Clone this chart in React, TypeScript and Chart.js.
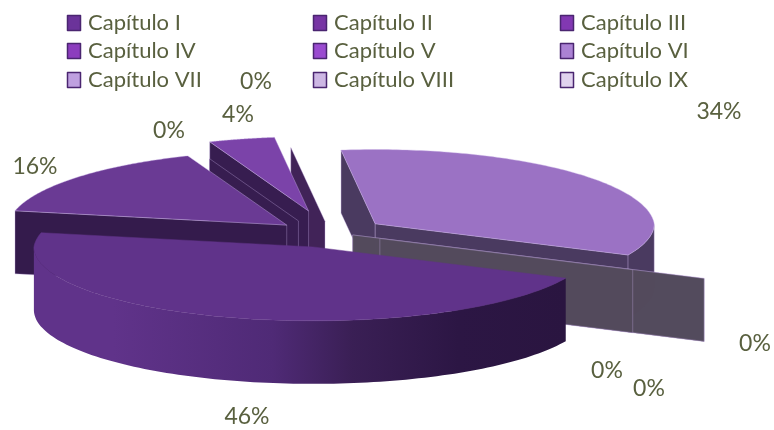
import React, { useEffect, useRef } from "react";
import { Chart, registerables } from "chart.js";

Chart.register(...registerables);

const categories = ["Capítulo I", "Capítulo II", "Capítulo III", "Capítulo IV", "Capítulo V", "Capítulo VI", "Capítulo VII", "Capítulo VIII", "Capítulo IX"];
const percentages = [46, 16, 0, 4, 0, 34, 0, 0, 0];

const legendColors = ["#6b339a", "#7735a4", "#8238b2", "#8c3dbe", "#9a4bd0", "#ab82d4", "#bfa0e0", "#cdb7e4", "#e0d2ee"];
const topColors = ["#60338a", "#6a3a94", "#703c9c", "#7b43a9", "#7b43a9", "#9b72c4", "#534a5c", "#534a5c", "#534a5c"];
const wallColors = ["#2a1540", "#341b4c", "#371d50", "#371d50", "#412358", "#4a3a60", "rgba(83,74,92,0.93)", "rgba(83,74,92,0.93)", "rgba(83,74,92,0.93)"];

// Layout of the 3D projection
const explode = [56, 56, 85, 85, 39, 56, 25, 55, 25];
const reach = [1, 1, 0.9, 1, 1, 1, 1.39, 1, 1.39];
const drop = [0, 3, 11, 2, 0, 1, 0, 0, 0];
const paintOrder = [4, 3, 2, 1, 5, 6, 8, 7, 0];
const SQUASH = 0.28;
const SQUASH_NEAR = 0.265;
const DEPTH = 63;
const PERSPECTIVE_FAR = 0.05;

const labelAnchors = [[247, 417], [35, 167], [169, 131], [238, 115], [256, 82], [719, 112], [755, 344], [607, 371], [649, 389]];
const legendCols = [67, 313, 560];
const legendRows = [23, 51, 80];
const FONT = "Lato, 'Open Sans', sans-serif";
const TEXT = "#59603f";

const pie3d = {
  id: "pie3d",
  beforeDatasetsDraw(chart: any) {
    const { ctx } = chart;
    const arcs = chart.getDatasetMeta(0).data;
    ctx.save();
    ctx.lineJoin = "round";

    paintOrder.forEach((i) => {
      const p = arcs[i].getProps(["x", "y", "startAngle", "endAngle", "outerRadius"], true);
      const mid = (p.startAngle + p.endAngle) / 2;
      const R = p.outerRadius * reach[i];
      const ax = p.x + explode[i] * Math.cos(mid);
      const ay = p.y + SQUASH * explode[i] * Math.sin(mid) + drop[i];
      const at = (a: number, z: number) => {
        const s = Math.sin(a);
        const r = s < 0 ? R * (1 + PERSPECTIVE_FAR * s) : R;
        return [ax + r * Math.cos(a), ay + (s < 0 ? SQUASH : SQUASH_NEAR) * r * s + z];
      };
      const poly = (pts: number[][], fill: any, edge = "rgba(190,165,220,0.45)") => {
        ctx.beginPath();
        pts.forEach((q, k) => (k ? ctx.lineTo(q[0], q[1]) : ctx.moveTo(q[0], q[1])));
        ctx.closePath();
        ctx.fillStyle = fill;
        ctx.fill();
        ctx.strokeStyle = edge;
        ctx.lineWidth = 0.8;
        ctx.stroke();
      };
      const radialFace = (a: number) => {
        const c = at(a, 0);
        poly([[ax, ay], c, [c[0], c[1] + DEPTH], [ax, ay + DEPTH]], wallColors[i]);
      };

      if (p.endAngle - p.startAngle < 1e-6) {
        radialFace(p.startAngle);
        return;
      }
      // radial faces that look towards the viewer
      if (-Math.cos(p.startAngle) > 0) radialFace(p.startAngle);
      if (Math.cos(p.endAngle) > 0) radialFace(p.endAngle);

      const steps = 120;
      const samples: number[] = [];
      for (let k = 0; k <= steps; k++) samples.push(p.startAngle + ((p.endAngle - p.startAngle) * k) / steps);

      // curved outer wall on the near half
      const near = samples.filter((a) => Math.sin(a) >= 0);
      if (near.length > 1) {
        const upper = near.map((a) => at(a, 0));
        const lower = near.map((a) => at(a, DEPTH)).reverse();
        let fill: any = wallColors[i];
        if (i === 0) {
          const g = ctx.createLinearGradient(33, 0, 565, 0);
          g.addColorStop(0, "#60338a");
          g.addColorStop(0.15, "#60338a");
          g.addColorStop(0.45, "#4f2a76");
          g.addColorStop(0.6, "#3a1f55");
          g.addColorStop(0.8, "#2c1644");
          g.addColorStop(1, "#2a1540");
          fill = g;
        }
        poly([...upper, ...lower], fill, i === 0 ? "rgba(0,0,0,0)" : undefined);
      }
      // top surface
      poly([[ax, ay], ...samples.map((a) => at(a, 0))], topColors[i], i === 0 ? "rgba(96,51,138,0.6)" : "rgba(200,175,230,0.5)");
    });

    // data labels
    ctx.fillStyle = TEXT;
    ctx.font = `23px ${FONT}`;
    ctx.textAlign = "center";
    ctx.textBaseline = "middle";
    percentages.forEach((v, i) => ctx.fillText(`${v}%`, labelAnchors[i][0], labelAnchors[i][1]));

    // legend
    ctx.textAlign = "left";
    ctx.font = `22px ${FONT}`;
    categories.forEach((name, i) => {
      const x = legendCols[i % 3];
      const y = legendRows[Math.floor(i / 3)];
      ctx.fillStyle = legendColors[i];
      ctx.strokeStyle = "#4a2570";
      ctx.lineWidth = 1.5;
      ctx.beginPath();
      ctx.rect(x + 0.5, y - 7.5, 13, 15);
      ctx.fill();
      ctx.stroke();
      ctx.fillStyle = TEXT;
      ctx.fillText(name, x + 21, y);
    });
    ctx.restore();
    return false;
  },
};

export default function App() {
  const ref = useRef<HTMLCanvasElement>(null);
  useEffect(() => {
    const chart = new Chart(ref.current as HTMLCanvasElement, {
      type: "pie",
      data: {
        labels: categories,
        datasets: [{ data: percentages, backgroundColor: topColors, borderWidth: 0 }],
      },
      options: {
        animation: false,
        responsive: false,
        rotation: 115,
        radius: 279,
        layout: { padding: { top: 34, right: 114 } },
        plugins: { legend: { display: false }, tooltip: { enabled: false } },
      },
      plugins: [pie3d],
    } as any);
    return () => chart.destroy();
  }, []);
  return (
    <div style={{ position: "fixed", left: 0, top: 0, width: 774, height: 430, background: "#fff" }}>
      <canvas ref={ref} width={774} height={430} style={{ display: "block" }} />
    </div>
  );
}
